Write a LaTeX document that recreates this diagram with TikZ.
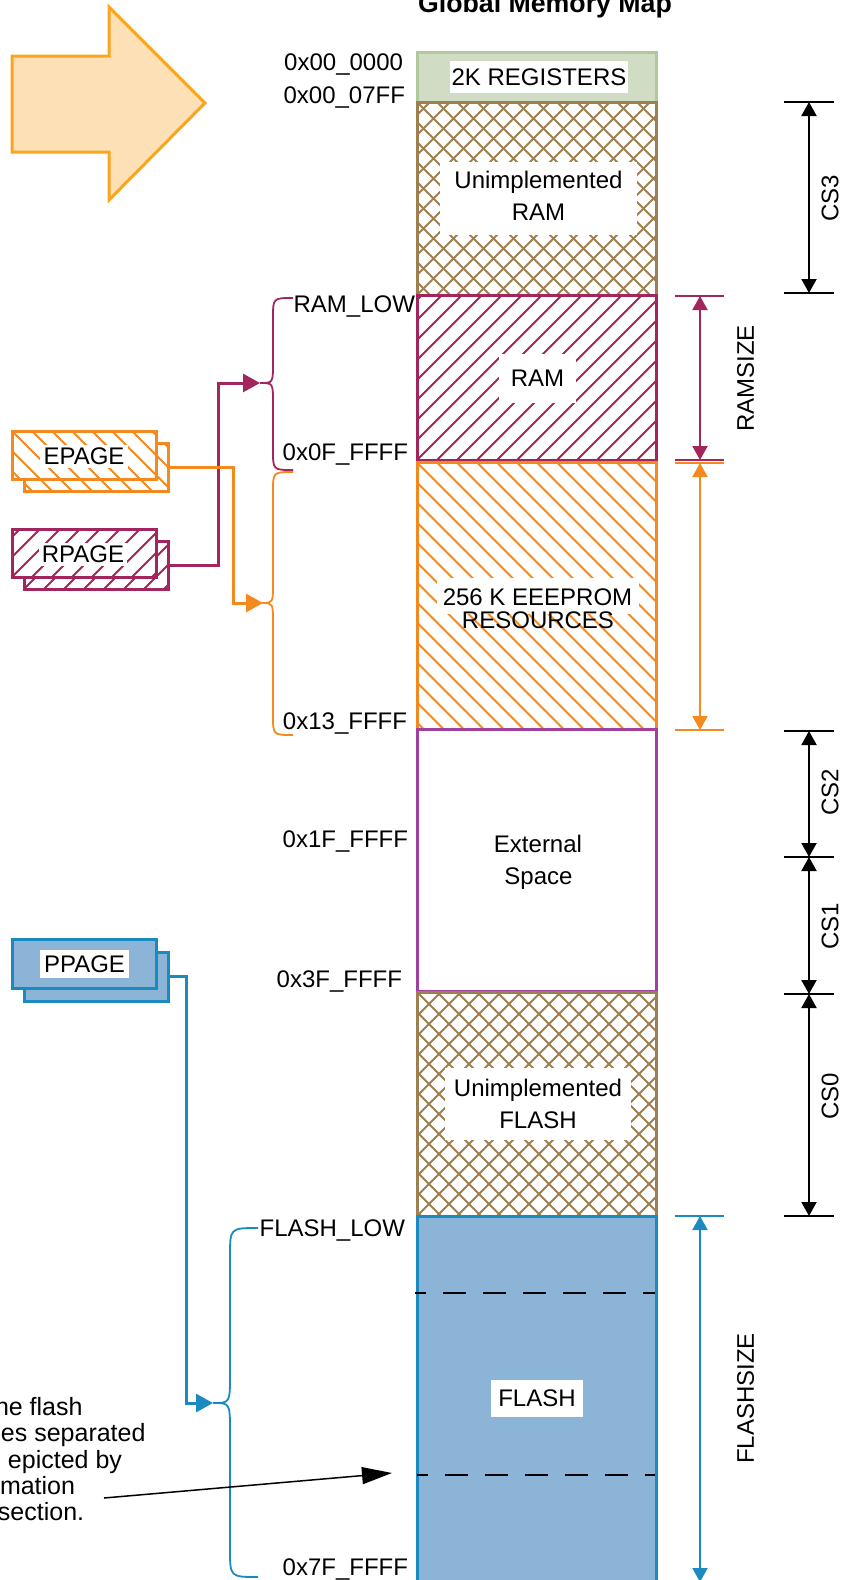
\documentclass[tikz,border=0pt]{standalone}
\usepackage{fontspec}
\setmainfont{Liberation Sans}
\usetikzlibrary{arrows.meta,calc}
\definecolor{regfill}{HTML}{D0DCC3}
\definecolor{regline}{HTML}{B0C89B}
\definecolor{brownc}{HTML}{9E7F50}
\definecolor{ramc}{HTML}{A2255B}
\definecolor{orangec}{HTML}{F4891F}
\definecolor{purplec}{HTML}{A0409F}
\definecolor{flashfill}{HTML}{8BB4D7}
\definecolor{flashline}{HTML}{1B8AC1}
\definecolor{arrfill}{HTML}{FDE0B5}
\definecolor{arrline}{HTML}{F8A61F}
\tikzset{
  every node/.style={font=\fontsize{24}{28}\selectfont},
  txt/.style={inner sep=0pt, outer sep=0pt, anchor=base},
  rtxt/.style={inner sep=0pt, outer sep=0pt, anchor=base east},
  ltxt/.style={inner sep=0pt, outer sep=0pt, anchor=base west, font=\fontsize{25}{28}\selectfont},
  bgbox/.style={fill=white, draw=none, inner sep=0pt, outer sep=0pt},
  blk/.style={rectangle, inner sep=0pt, outer sep=0pt, minimum width=239pt, line width=3pt},
  pbox/.style={rectangle, inner sep=0pt, outer sep=0pt, minimum width=144pt, minimum height=48pt, line width=3pt, fill=white},
  hup/.style={path picture={\foreach \k in {-22,...,16}{\draw[#1,line width=2pt] ($(path picture bounding box.south west)+(\k*20,0)$) -- ++(500,-500);}}},
  hdown/.style={path picture={\foreach \k in {-22,...,16}{\draw[#1,line width=2pt] ($(path picture bounding box.north west)+(\k*20,0)$) -- ++(500,500);}}},
  hcross/.style={path picture={\foreach \k in {-22,...,16}{\draw[#1,line width=2pt] ($(path picture bounding box.south west)+(\k*20,0)$) -- ++(500,-500); \draw[#1,line width=2pt] ($(path picture bounding box.north west)+(\k*20,0)$) -- ++(500,500);}}},
  brace/.style={line width=1.8pt},
  conn/.style={line width=3pt, -{Triangle[length=17pt,width=18pt]}},
  dimline/.style={line width=2pt},
  dimarr/.style={line width=2pt, {Triangle[length=14pt,width=15pt]}-{Triangle[length=14pt,width=15pt]}},
  sepline/.style={line width=2pt, dash pattern=on 23pt off 17pt, dash phase=12pt},
}
\begin{document}
\begin{tikzpicture}[x=1pt,y=-1pt]
\useasboundingbox (0,0) rectangle (846,1580);
\clip (0,0) rectangle (846,1580);

% title
\node[txt, font=\bfseries\fontsize{26.7}{30}\selectfont] (title) at (545,12) {Global Memory Map};

% big arrow
\draw[draw=arrline, fill=arrfill, line width=3pt, line join=miter] (12,56) -- (109,56) -- (109,7) -- (205,103) -- (109,200) -- (109,152) -- (12,152) -- cycle;

% memory column
\node[blk, minimum height=50pt, fill=regfill, draw=regline] (reg) at (536.5,77) {};
\node[blk, minimum height=193pt, fill=white, draw=brownc, hcross=brownc] (uram) at (536.5,198.5) {};
\node[blk, minimum height=165pt, fill=white, draw=ramc, hup=ramc] (ram) at (536.5,377.5) {};
\node[blk, minimum height=267pt, fill=white, draw=orangec, hdown=orangec] (eep) at (536.5,596) {};
\node[blk, minimum height=262pt, fill=white, draw=purplec] (ext) at (536.5,860.5) {};
\node[blk, minimum height=224pt, fill=white, draw=brownc, hcross=brownc] (ufl) at (536.5,1104) {};
\node[blk, minimum height=380pt, fill=flashfill, draw=flashline] (fl) at (536.5,1406) {};

% flash page separators
\draw[sepline] (415,1293) -- (655,1293);
\draw[sepline] (417,1475) -- (655,1475);

% block labels
\node[bgbox, minimum width=178pt, minimum height=32pt] (regl) at (539,77) {2K REGISTERS};
\node[bgbox, minimum width=197pt, minimum height=73pt] (uramb) at (538.5,198.5) {};
\node[txt] (uramt1) at (538.5,188.5) {Unimplemented};
\node[txt] (uramt2) at (538.5,220.5) {RAM};
\node[bgbox, minimum width=77pt, minimum height=49pt] (raml) at (537.5,378.5) {RAM};
\node[bgbox, minimum width=202pt, minimum height=36pt] (eepb) at (538,596) {};
\node[txt] (eept1) at (537.5,605) {256 K EEEPROM};
\node[txt] (eept2) at (538,628.5) {RESOURCES};
\node[txt] (extt1) at (538,852.5) {External};
\node[txt] (extt2) at (538.5,884) {Space};
\node[bgbox, minimum width=186pt, minimum height=72pt] (uflb) at (538,1104) {};
\node[txt] (uflt1) at (538,1096) {Unimplemented};
\node[txt] (uflt2) at (538,1128) {FLASH};
\node[bgbox, minimum width=92pt, minimum height=37pt] (fll) at (537,1398.5) {FLASH};

% address labels
\node[rtxt] (a0) at (403,70.5) {0x00\_0000};
\node[rtxt] (a1) at (405,103.3) {0x00\_07FF};
\node[rtxt] (a2) at (415,312) {RAM\_LOW};
\node[rtxt] (a3) at (408,460) {0x0F\_FFFF};
\node[rtxt] (a4) at (407,729) {0x13\_FFFF};
\node[rtxt] (a5) at (408,847) {0x1F\_FFFF};
\node[rtxt] (a6) at (402,987) {0x3F\_FFFF};
\node[rtxt] (a7) at (405,1236) {FLASH\_LOW};
\node[rtxt] (a8) at (408,1575) {0x7F\_FFFF};

% braces
\draw[ramc, brace] (293,298) .. controls (273,298) .. (273,318) -- (273,363) .. controls (273,383) .. (260,383) .. controls (273,383) .. (273,403) -- (273,450) .. controls (273,470) .. (293,470);
\draw[orangec, brace] (293,472) .. controls (273,472) .. (273,492) -- (273,583) .. controls (273,603) .. (262,603) .. controls (273,603) .. (273,623) -- (273,715) .. controls (273,735) .. (293,735);
\draw[flashline, brace] (258,1228) .. controls (230,1228) .. (230,1256) -- (230,1375) .. controls (230,1403) .. (213,1403) .. controls (230,1403) .. (230,1431) -- (230,1549) .. controls (230,1577) .. (258,1577);
\coordinate (ramtip) at (260,383);
\coordinate (eetip) at (263,603);
\coordinate (fltip) at (213,1403);

% page registers
\node[pbox, draw=orangec, hdown=orangec] (epb) at (96,467) {};
\node[pbox, draw=orangec, hdown=orangec] (epf) at (84,455) {};
\node[bgbox, minimum width=88pt, minimum height=23pt] (ept) at (84,456) {EPAGE};
\node[pbox, draw=ramc, hup=ramc] (rpb) at (96,565) {};
\node[pbox, draw=ramc, hup=ramc] (rpf) at (84,553) {};
\node[bgbox, minimum width=88pt, minimum height=23pt] (rpt) at (83,554) {RPAGE};
\node[pbox, minimum height=49pt, fill=flashfill, draw=flashline] (ppb) at (96,976.5) {};
\node[pbox, minimum height=49pt, fill=flashfill, draw=flashline] (ppf) at (84,963.5) {};
\node[bgbox, minimum width=89pt, minimum height=28pt] (ppt) at (84.5,964) {PPAGE};

% connectors
\draw[ramc, conn] (rpb.east) -- ++(50,0) |- (ramtip);
\draw[orangec, conn] (epb.east) -- ++(65,0) |- (eetip);
\draw[flashline, conn] (ppb.east) -- ++(18,0) |- (fltip);

% chip select dimensions
\coordinate (cs3t) at (809,102);
\coordinate (cs3b) at (809,293);
\coordinate (cs2t) at (809,731);
\coordinate (cs21) at (809,857);
\coordinate (cs10) at (809,994);
\coordinate (cs0b) at (809,1216);
\foreach \c in {cs3t,cs3b,cs2t,cs21,cs10,cs0b}{\draw[dimline] ($(\c)+(-25,0)$) -- ($(\c)+(25,0)$);}
\draw[dimarr] (cs3t) -- (cs3b);
\draw[dimarr] (cs2t) -- (cs21);
\draw[dimarr] (cs21) -- (cs10);
\draw[dimarr] (cs10) -- (cs0b);
\node[rotate=90, inner sep=0pt] (cs3l) at (830,198) {CS3};
\node[rotate=90, inner sep=0pt] (cs2l) at (830,792.5) {CS2};
\node[rotate=90, inner sep=0pt] (cs1l) at (830,926.5) {CS1};
\node[rotate=90, inner sep=0pt] (cs0l) at (830,1096) {CS0};

% size dimensions
\coordinate (rst) at (700,296);
\coordinate (rsb) at (700,460);
\coordinate (est) at (700,463);
\coordinate (esb) at (700,730);
\coordinate (fst) at (700,1216);
\coordinate (fsb) at (700,1582);
\draw[ramc, dimline] ($(rst)+(-25,0)$) -- ($(rst)+(24,0)$);
\draw[ramc, dimline] ($(rsb)+(-25,0)$) -- ($(rsb)+(24,0)$);
\draw[ramc, dimarr] (rst) -- (rsb);
\draw[orangec, dimline] ($(est)+(-25,0)$) -- ($(est)+(24,0)$);
\draw[orangec, dimline] ($(esb)+(-25,0)$) -- ($(esb)+(24,0)$);
\draw[orangec, dimarr] (est) -- (esb);
\draw[flashline, dimline] ($(fst)+(-25,0)$) -- ($(fst)+(24,0)$);
\draw[flashline, dimarr] (fst) -- (fsb);
\node[rotate=90, inner sep=0pt] (rsl) at (745.5,378.5) {RAMSIZE};
\node[rotate=90, inner sep=0pt] (fsl) at (745.5,1398.5) {FLASHSIZE};

% annotation (cut off at the left edge)
\node[ltxt] (n1) at (-5,1415) {he flash};
\node[ltxt] (n2) at (1,1441.5) {es separated};
\node[ltxt] (n3) at (8,1468) {epicted by};
\node[ltxt] (n4) at (0,1494) {mation};
\node[ltxt] (n5) at (-2,1520) {section.};
\coordinate (annS) at (104,1498);
\coordinate (annT) at (392,1473);
\draw[line width=1.5pt, -{Triangle[length=30pt,width=17pt]}] (annS) -- (annT);
\end{tikzpicture}
\end{document}
